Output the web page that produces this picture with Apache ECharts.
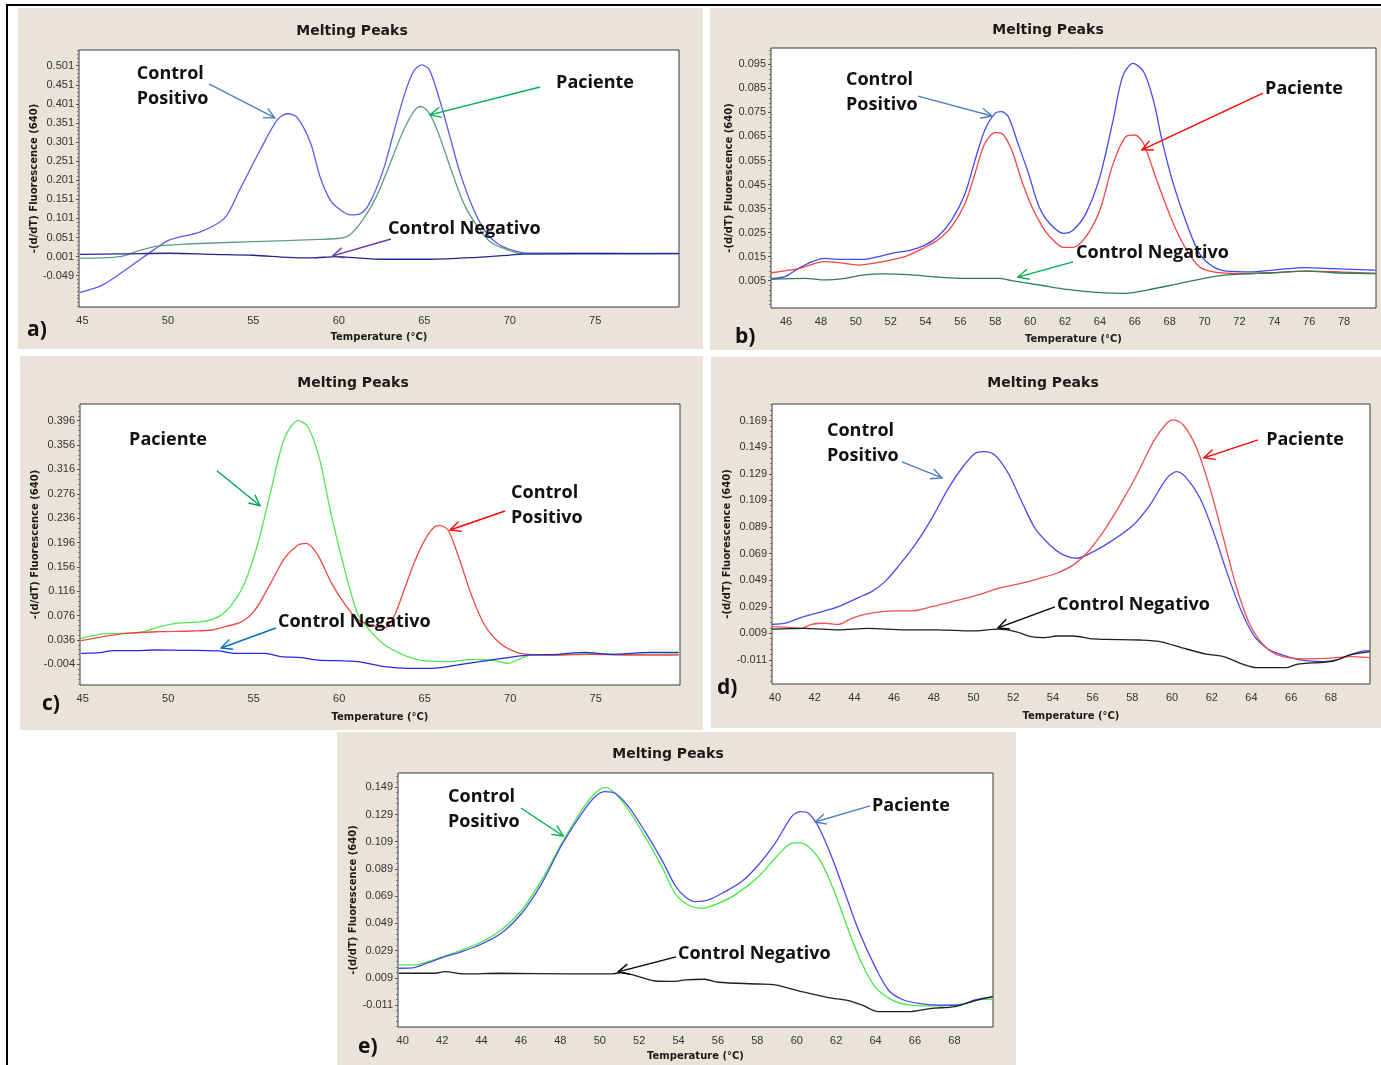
<!DOCTYPE html>
<html>
<head>
<meta charset="utf-8">
<script src="https://cdn.jsdelivr.net/npm/echarts@6/dist/echarts.min.js"></script>
<style>
  html, body { margin: 0; padding: 0; background: #ffffff; }
  #chart { width: 1381px; height: 1065px; }
</style>
</head>
<body>
<div id="chart"></div>
<script>
// ---- tick labels ----
const aXTicks = [45, 50, 55, 60, 65, 70, 75];
const aYTicks = [-0.049, 0.001, 0.051, 0.101, 0.151, 0.201, 0.251, 0.301, 0.351, 0.401, 0.451, 0.501];
const bXTicks = [46, 48, 50, 52, 54, 56, 58, 60, 62, 64, 66, 68, 70, 72, 74, 76, 78];
const bYTicks = [0.005, 0.015, 0.025, 0.035, 0.045, 0.055, 0.065, 0.075, 0.085, 0.095];
const cXTicks = [45, 50, 55, 60, 65, 70, 75];
const cYTicks = [-0.004, 0.036, 0.076, 0.116, 0.156, 0.196, 0.236, 0.276, 0.316, 0.356, 0.396];
const dXTicks = [40, 42, 44, 46, 48, 50, 52, 54, 56, 58, 60, 62, 64, 66, 68];
const dYTicks = [-0.011, 0.009, 0.029, 0.049, 0.069, 0.089, 0.109, 0.129, 0.149, 0.169];
const eXTicks = [40, 42, 44, 46, 48, 50, 52, 54, 56, 58, 60, 62, 64, 66, 68];
const eYTicks = [-0.011, 0.009, 0.029, 0.049, 0.069, 0.089, 0.109, 0.129, 0.149];

// ---- melting curves: [temperature, -(d/dT) fluorescence] ----
// a)
const aPositivo = [[44.85,-0.093],[46.2,-0.073],[47.8,-0.025],[49.15,0.018],[50.1,0.045],[51.9,0.066],[53.3,0.101],[54.2,0.176],[55.4,0.28],[56.4,0.359],[57.0,0.375],[57.55,0.366],[58.35,0.298],[58.9,0.21],[59.5,0.149],[60.1,0.123],[60.7,0.11],[61.2,0.112],[61.8,0.141],[62.6,0.228],[63.2,0.324],[63.8,0.42],[64.36,0.485],[64.85,0.503],[65.3,0.49],[65.9,0.411],[66.5,0.315],[67.1,0.219],[67.9,0.123],[68.65,0.062],[69.4,0.032],[70.2,0.017],[71.0,0.010],[74.0,0.010],[77.0,0.0095],[79.9,0.0095]];
const aPaciente = [[44.85,-0.003],[47.2,0.001],[48.4,0.018],[49.5,0.029],[51.1,0.034],[55.0,0.040],[58.9,0.046],[60.1,0.049],[60.65,0.058],[61.4,0.097],[62.2,0.158],[63.0,0.245],[63.8,0.333],[64.45,0.385],[64.8,0.394],[65.3,0.376],[65.9,0.315],[66.5,0.237],[67.3,0.141],[68.1,0.08],[68.85,0.04],[69.8,0.02],[70.8,0.008],[74.0,0.008],[79.9,0.009]];
const aNegativo = [[44.85,0.007],[47.2,0.008],[50.1,0.0097],[52.6,0.007],[55.0,0.0045],[57.0,-0.001],[58.35,-0.0025],[59.9,0.001],[60.65,-0.001],[62.6,-0.006],[65.3,-0.006],[68.1,-0.001],[70.0,0.005],[71.0,0.008],[74.0,0.009],[79.9,0.009]];
// b)
const bPositivo = [[45.15,0.006],[45.94,0.0067],[46.7,0.010],[47.5,0.0129],[48.2,0.0143],[49.0,0.0139],[50.5,0.0139],[51.3,0.015],[52.06,0.0164],[53.2,0.0178],[53.97,0.0198],[54.7,0.0233],[55.5,0.0302],[56.27,0.0413],[56.84,0.0552],[57.4,0.0677],[57.99,0.0746],[58.37,0.0753],[58.75,0.0732],[59.3,0.0621],[59.9,0.0497],[60.5,0.036],[61.1,0.029],[61.9,0.0247],[62.47,0.0261],[63.2,0.033],[64.0,0.0483],[64.76,0.0719],[65.3,0.0899],[65.9,0.0954],[66.5,0.092],[67.06,0.0802],[67.6,0.0621],[68.2,0.0455],[68.97,0.0289],[69.7,0.0164],[70.5,0.0108],[71.26,0.009],[72.8,0.0087],[74.3,0.0097],[75.85,0.0104],[77.4,0.010],[79.8,0.0094]];
const bPaciente = [[45.15,0.0083],[46.7,0.010],[48.2,0.0129],[49.0,0.0125],[50.15,0.0115],[51.3,0.0126],[52.8,0.015],[53.97,0.0189],[54.7,0.0219],[55.5,0.0275],[56.27,0.0372],[56.84,0.0497],[57.4,0.0621],[57.99,0.0666],[58.37,0.0663],[58.94,0.0594],[59.5,0.0469],[60.1,0.0358],[60.7,0.0275],[61.13,0.0233],[61.9,0.0189],[62.47,0.0189],[63.2,0.0233],[64.0,0.0344],[64.76,0.0538],[65.5,0.065],[66.0,0.0656],[66.5,0.0621],[67.25,0.0469],[68.2,0.0289],[68.97,0.0178],[69.7,0.0108],[70.5,0.0087],[72.0,0.008],[73.9,0.0083],[75.85,0.009],[79.8,0.008]];
const bNegativo = [[45.15,0.0056],[47.1,0.006],[48.2,0.0053],[49.4,0.006],[50.5,0.0074],[51.5,0.0078],[53.2,0.0074],[54.35,0.0067],[55.9,0.006],[58.2,0.006],[58.94,0.005],[60.7,0.003],[62.1,0.0014],[64.0,0.0],[65.3,-0.0003],[66.7,0.0011],[68.6,0.0039],[70.5,0.0067],[71.3,0.0074],[73.9,0.0083],[75.85,0.009],[77.4,0.0083],[79.8,0.008]];
// c)
const cPaciente = [[44.9,0.0387],[46.2,0.046],[48.3,0.048],[49.5,0.0578],[50.44,0.0633],[52.0,0.066],[52.95,0.0742],[53.7,0.0934],[54.5,0.1317],[55.27,0.197],[56.04,0.285],[56.8,0.367],[57.6,0.396],[58.17,0.386],[58.84,0.334],[59.5,0.246],[60.3,0.1535],[61.06,0.08],[61.68,0.055],[62.66,0.0277],[64.0,0.0086],[65.0,0.0015],[66.56,0.0004],[67.7,0.0042],[68.9,0.0031],[69.87,-0.0024],[70.65,0.0058],[71.2,0.0113],[72.8,0.0113],[74.75,0.014],[76.7,0.0124],[79.85,0.013]];
const cPositivo = [[44.9,0.0348],[46.2,0.0414],[47.55,0.0469],[49.5,0.0496],[51.4,0.0507],[52.57,0.0523],[53.34,0.0578],[54.3,0.066],[55.08,0.0852],[56.04,0.1317],[56.8,0.170],[57.6,0.1918],[58.07,0.1946],[58.75,0.1754],[59.5,0.1317],[60.3,0.096],[61.08,0.07],[61.88,0.0605],[62.66,0.056],[63.24,0.077],[63.83,0.121],[64.4,0.164],[65.0,0.200],[65.58,0.222],[65.88,0.2236],[66.36,0.2165],[66.95,0.175],[67.73,0.1098],[68.5,0.0605],[69.3,0.0332],[70.26,0.0168],[71.04,0.0124],[72.8,0.0113],[74.75,0.0124],[76.7,0.0113],[79.85,0.0113]];
const cNegativo = [[44.9,0.014],[46.0,0.0151],[46.8,0.0184],[48.1,0.0184],[49.1,0.0195],[51.0,0.019],[52.95,0.0179],[53.9,0.014],[55.66,0.014],[56.6,0.0086],[57.8,0.007],[58.75,0.003],[61.08,0.0004],[62.66,-0.0078],[64.0,-0.0106],[65.4,-0.0106],[66.95,-0.005],[68.5,0.0015],[69.87,0.007],[71.2,0.0113],[72.8,0.0124],[74.35,0.0157],[75.9,0.0124],[78.25,0.0157],[79.85,0.0157]];
// d)
const dPositivo = [[39.85,0.0158],[40.5,0.0166],[41.34,0.0211],[42.18,0.0246],[43.2,0.0291],[44.2,0.0359],[44.87,0.0404],[45.54,0.0479],[46.2,0.0592],[47.05,0.0755],[47.9,0.0955],[48.73,0.118],[49.4,0.133],[50.08,0.1444],[50.5,0.1457],[51.08,0.143],[51.75,0.1294],[52.43,0.108],[53.1,0.088],[53.85,0.0755],[54.53,0.068],[55.2,0.0655],[56.04,0.0705],[57.04,0.0793],[58.05,0.0905],[58.89,0.1056],[59.73,0.1256],[60.24,0.1306],[60.74,0.1256],[61.41,0.1106],[62.08,0.0855],[62.75,0.0554],[63.43,0.0279],[64.1,0.0078],[64.77,-0.0022],[65.44,-0.0067],[66.45,-0.011],[67.62,-0.0123],[68.3,-0.011],[68.97,-0.0072],[69.64,-0.0042],[69.95,-0.004]];
const dPaciente = [[39.85,0.0141],[40.84,0.0133],[41.34,0.0128],[41.85,0.0158],[42.5,0.0166],[43.2,0.0158],[43.86,0.0203],[44.53,0.0233],[45.37,0.0254],[46.05,0.0259],[46.88,0.0259],[47.9,0.0291],[49.07,0.0334],[50.24,0.0379],[51.25,0.0429],[52.43,0.0467],[53.35,0.0504],[54.19,0.0542],[55.03,0.0605],[55.7,0.0692],[56.54,0.0855],[57.38,0.1056],[58.22,0.1281],[59.06,0.1532],[59.73,0.167],[60.07,0.1695],[60.57,0.1657],[61.24,0.1482],[61.91,0.1181],[62.59,0.0805],[63.26,0.0429],[63.93,0.0153],[64.77,-0.0022],[65.6,-0.0085],[66.78,-0.0102],[67.96,-0.0097],[68.97,-0.0085],[69.95,-0.0092]];
const dNegativo = [[39.85,0.0121],[41.5,0.0128],[43.2,0.0116],[44.7,0.0128],[46.55,0.0116],[48.2,0.0116],[49.9,0.0108],[51.25,0.0121],[52.1,0.0103],[52.93,0.0065],[53.6,0.0058],[54.19,0.007],[55.03,0.007],[56.04,0.0048],[58.39,0.004],[59.4,0.0028],[60.57,-0.0022],[61.75,-0.0067],[62.59,-0.0085],[63.59,-0.0143],[64.27,-0.0168],[65.78,-0.0168],[66.28,-0.0143],[68.13,-0.0118],[68.97,-0.0072],[69.95,-0.0047]];
// e)
const ePositivo = [[39.8,0.0184],[40.63,0.0184],[41.3,0.0209],[42.15,0.025],[43.0,0.0294],[44.0,0.0353],[45.0,0.0441],[46.04,0.0588],[47.06,0.0809],[48.07,0.1078],[49.09,0.1323],[49.76,0.1446],[50.27,0.149],[50.78,0.1446],[51.46,0.1323],[52.3,0.1127],[53.15,0.0907],[53.82,0.0711],[54.5,0.0625],[55.17,0.06],[56.02,0.0637],[56.87,0.0699],[58.05,0.0833],[58.9,0.0968],[59.57,0.1066],[60.08,0.1083],[60.59,0.1054],[61.27,0.0931],[61.94,0.0711],[62.62,0.0441],[63.3,0.0196],[63.97,0.0025],[64.82,-0.0073],[65.66,-0.011],[66.68,-0.0117],[67.86,-0.0112],[68.71,-0.0093],[69.4,-0.0068],[69.95,-0.0068]];
const ePaciente = [[39.8,0.016],[40.63,0.0167],[41.3,0.0201],[42.15,0.0245],[43.0,0.0282],[44.0,0.0338],[45.0,0.0417],[46.04,0.0564],[47.06,0.0784],[48.07,0.1066],[49.09,0.1299],[49.76,0.1421],[50.27,0.1458],[50.78,0.1446],[51.46,0.1348],[52.3,0.1164],[53.15,0.0956],[53.82,0.077],[54.33,0.0686],[54.84,0.065],[55.51,0.0662],[56.36,0.0723],[57.2,0.0797],[58.05,0.0919],[58.9,0.1078],[59.74,0.1274],[60.17,0.1311],[60.59,0.1299],[61.1,0.12],[61.77,0.098],[62.45,0.0711],[63.13,0.0441],[63.97,0.0172],[64.65,0.0],[65.33,-0.0068],[66.17,-0.0098],[67.36,-0.0112],[68.2,-0.0112],[69.05,-0.0073],[69.95,-0.0049]];
const eNegativo = [[39.8,0.0123],[41.64,0.0123],[42.15,0.0135],[43.16,0.0118],[45.0,0.0123],[48.4,0.0118],[50.6,0.0118],[51.12,0.0128],[51.8,0.0106],[52.8,0.0066],[53.82,0.0063],[54.33,0.0074],[55.34,0.0079],[56.02,0.0057],[58.05,0.0044],[58.9,0.0037],[60.25,-0.0012],[61.6,-0.0056],[62.62,-0.0078],[63.3,-0.011],[64.14,-0.0159],[65.66,-0.0159],[66.85,-0.0135],[68.03,-0.0122],[69.05,-0.0078],[69.95,-0.0049]];

// ---- fonts & colours ----
const FONT_TICK = '"Liberation Sans Narrow", "Liberation Sans", Arial, sans-serif';
const FONT_AXIS = '"DejaVu Sans", sans-serif';
const FONT_NOTE = '"Open Sans", "Noto Sans", sans-serif';
const BEIGE = '#E9E3D9';

// ---- panel layout: plot boxes, axis extents, callouts (callouts in data coordinates) ----
const panels = [
  { letter: 'a)', letterPos: [27, 330], panelBox: [18, 8, 685, 341], titlePos: [352, 31],
    grid: { left: 79, top: 50, width: 600, height: 257 }, xRange: [44.8, 79.9], yRange: [-0.131, 0.542],
    xTicks: aXTicks, yTicks: aYTicks, yMinor: 0.01, yNameGap: 31, xNameGap: 25,
    lines: [
      { name: 'Control Positivo', data: aPositivo, color: '#5A5AF0' },
      { name: 'Paciente', data: aPaciente, color: '#5E9E80' },
      { name: 'Control Negativo', data: aNegativo, color: '#24248A' }
    ],
    notes: [
      { text: 'Control\nPositivo', at: [48.18, 0.448], tail: [52.4, 0.453], tip: [56.26, 0.364], color: '#4F81BD' },
      { text: 'Paciente', at: [72.71, 0.456], tail: [71.77, 0.445], tip: [65.33, 0.372], color: '#00B050' },
      { text: 'Control Negativo', at: [62.87, 0.0735], tail: [63.05, 0.047], tip: [59.65, 0.003], color: '#7030A0' }
    ] },
  { letter: 'b)', letterPos: [735, 337], panelBox: [710, 8, 671, 342], titlePos: [1048, 30],
    grid: { left: 771, top: 48, width: 605, height: 260 }, xRange: [45.14, 79.83], yRange: [-0.00636, 0.1018],
    xTicks: bXTicks, yTicks: bYTicks, yMinor: 0.002, yNameGap: 31, xNameGap: 26,
    lines: [
      { name: 'Control Positivo', data: bPositivo, color: '#4646F4' },
      { name: 'Paciente', data: bPaciente, color: '#F04646' },
      { name: 'Control Negativo', data: bNegativo, color: '#2E7D55' }
    ],
    notes: [
      { text: 'Control\nPositivo', at: [49.44, 0.0835], tail: [53.57, 0.0818], tip: [57.81, 0.0735], color: '#4F81BD' },
      { text: 'Paciente', at: [73.47, 0.0847], tail: [73.35, 0.083], tip: [66.41, 0.0594], color: '#FF0000' },
      { text: 'Control Negativo', at: [62.63, 0.0165], tail: [62.46, 0.0128], tip: [59.3, 0.0065], color: '#00B050' }
    ] },
  { letter: 'c)', letterPos: [42, 704], panelBox: [20, 356, 683, 374], titlePos: [353, 383],
    grid: { left: 80, top: 404, width: 600, height: 281 }, xRange: [44.84, 79.93], yRange: [-0.038, 0.4234],
    xTicks: cXTicks, yTicks: cYTicks, yMinor: 0.008, yNameGap: 35, xNameGap: 27,
    lines: [
      { name: 'Paciente', data: cPaciente, color: '#4EE84E' },
      { name: 'Control Positivo', data: cPositivo, color: '#F04848' },
      { name: 'Control Negativo', data: cNegativo, color: '#2828E0' }
    ],
    notes: [
      { text: 'Paciente', at: [47.71, 0.3653], tail: [52.85, 0.3138], tip: [55.37, 0.2563], color: '#00A651' },
      { text: 'Control\nPositivo', at: [70.05, 0.2576], tail: [69.7, 0.2477], tip: [66.48, 0.2165], color: '#FF0000' },
      { text: 'Control Negativo', at: [56.42, 0.0655], tail: [56.3, 0.0556], tip: [53.09, 0.0228], color: '#0070C0' }
    ] },
  { letter: 'd)', letterPos: [717, 688], panelBox: [711, 357, 670, 371], titlePos: [1043, 383],
    grid: { left: 772, top: 404, width: 598, height: 280 }, xRange: [39.85, 69.97], yRange: [-0.0291, 0.1815],
    xTicks: dXTicks, yTicks: dYTicks, yMinor: 0.004, yNameGap: 28, xNameGap: 27,
    lines: [
      { name: 'Control Positivo', data: dPositivo, color: '#4A4AF0' },
      { name: 'Paciente', data: dPaciente, color: '#F05050' },
      { name: 'Control Negativo', data: dNegativo, color: '#1E1E1E' }
    ],
    notes: [
      { text: 'Control\nPositivo', at: [42.62, 0.1522], tail: [46.4, 0.1379], tip: [48.41, 0.1259], color: '#4F81BD' },
      { text: 'Paciente', at: [64.74, 0.1545], tail: [64.33, 0.1545], tip: [61.61, 0.141], color: '#FF0000' },
      { text: 'Control Negativo', at: [54.21, 0.0304], tail: [54.1, 0.0289], tip: [51.23, 0.0131], color: '#000000' }
    ] },
  { letter: 'e)', letterPos: [358, 1047], panelBox: [337, 732, 679, 333], titlePos: [668, 754],
    grid: { left: 398, top: 773, width: 595, height: 254 }, xRange: [39.76, 69.96], yRange: [-0.0272, 0.1595],
    xTicks: eXTicks, yTicks: eYTicks, yMinor: 0.004, yNameGap: 38, xNameGap: 24,
    lines: [
      { name: 'Control Positivo', data: ePositivo, color: '#46EA46' },
      { name: 'Paciente', data: ePaciente, color: '#4A4AF0' },
      { name: 'Control Negativo', data: eNegativo, color: '#1E1E1E' }
    ],
    notes: [
      { text: 'Control\nPositivo', at: [42.3, 0.133], tail: [46.0, 0.1338], tip: [48.14, 0.1132], color: '#00B050' },
      { text: 'Paciente', at: [63.82, 0.1353], tail: [63.72, 0.1353], tip: [60.93, 0.1235], color: '#4F81BD' },
      { text: 'Control Negativo', at: [53.97, 0.0265], tail: [53.87, 0.0243], tip: [50.93, 0.0133], color: '#000000' }
    ] }
];

// minor tick positions between the labelled ticks
function minorTicks(major, step, lo, hi) {
  const out = [];
  const base = major[0];
  const start = Math.ceil((lo - base) / step - 1e-9);
  const end = Math.floor((hi - base) / step + 1e-9);
  for (let k = start; k <= end; k++) {
    const v = +(base + k * step).toFixed(6);
    if (!major.some(m => Math.abs(m - v) < step / 10)) out.push(v);
  }
  return out;
}

const option = {
  animation: false,
  backgroundColor: '#ffffff',
  grid: [], xAxis: [], yAxis: [], series: [],
  graphic: []
};

// figure frame (top and left rules)
option.graphic.push({ type: 'rect', id: 'frameTop', z: -2, shape: { x: 6, y: 4, width: 1375, height: 2 }, style: { fill: '#000' } });
option.graphic.push({ type: 'rect', id: 'frameLeft', z: -2, shape: { x: 6, y: 4, width: 2, height: 1061 }, style: { fill: '#000' } });

panels.forEach((p, i) => {
  const b = p.panelBox;
  option.graphic.push({ type: 'rect', id: 'bg' + i, z: -1, shape: { x: b[0], y: b[1], width: b[2], height: b[3] }, style: { fill: BEIGE } });
  option.graphic.push({ type: 'text', id: 'title' + i, z: 5, x: p.titlePos[0], y: p.titlePos[1],
    style: { text: 'Melting Peaks', font: 'bold 14px ' + FONT_AXIS, fill: '#1a1a1a', align: 'center', verticalAlign: 'middle' } });
  option.graphic.push({ type: 'text', id: 'letter' + i, z: 5, x: p.letterPos[0], y: p.letterPos[1],
    style: { text: p.letter, font: 'bold 21px ' + FONT_NOTE, fill: '#111', align: 'left', verticalAlign: 'middle' } });

  option.grid.push(Object.assign({ show: true, backgroundColor: '#ffffff', borderColor: '#3a3a3a', borderWidth: 1, containLabel: false }, p.grid));

  option.xAxis.push({
    type: 'value', gridIndex: i, min: p.xRange[0], max: p.xRange[1],
    axisLine: { show: false }, axisTick: { show: false }, splitLine: { show: false },
    axisLabel: { customValues: p.xTicks, margin: 8, fontFamily: FONT_TICK, fontSize: 11, color: '#333', hideOverlap: false },
    name: 'Temperature (°C)', nameLocation: 'middle', nameGap: p.xNameGap,
    nameTextStyle: { fontFamily: FONT_AXIS, fontWeight: 'bold', fontSize: 10, color: '#1a1a1a' }
  });

  option.yAxis.push({
    type: 'value', gridIndex: i, position: 'left', min: p.yRange[0], max: p.yRange[1],
    axisLine: { show: false }, splitLine: { show: false },
    axisTick: { show: true, customValues: p.yTicks, length: 3, lineStyle: { color: '#555' } },
    axisLabel: { customValues: p.yTicks, formatter: v => v.toFixed(3), margin: 5, fontFamily: FONT_TICK, fontSize: 11, color: '#333', hideOverlap: false },
    name: '-(d/dT) Fluorescence (640)', nameLocation: 'middle', nameRotate: 90, nameGap: p.yNameGap,
    nameTextStyle: { fontFamily: FONT_AXIS, fontWeight: 'bold', fontSize: 10, color: '#1a1a1a' }
  });
  option.yAxis.push({
    type: 'value', gridIndex: i, position: 'left', offset: 0, min: p.yRange[0], max: p.yRange[1],
    axisLine: { show: false }, splitLine: { show: false }, axisLabel: { show: false },
    axisTick: { show: true, customValues: minorTicks(p.yTicks, p.yMinor, p.yRange[0], p.yRange[1]), length: 2, lineStyle: { color: '#777' } }
  });

  p.lines.forEach(l => {
    option.series.push({
      type: 'line', name: l.name, xAxisIndex: i, yAxisIndex: 2 * i,
      data: l.data, showSymbol: false, smooth: 0.3, silent: true,
      lineStyle: { color: l.color, width: 1.3 }, itemStyle: { color: l.color }
    });
  });
});

const chart = echarts.init(document.getElementById('chart'), null, { renderer: 'canvas' });
chart.setOption(option);

// callout texts and open-headed arrows, placed through each panel's axes
const callouts = [];
panels.forEach((p, i) => {
  const toPx = c => chart.convertToPixel({ xAxisIndex: i, yAxisIndex: 2 * i }, c);
  p.notes.forEach((n, k) => {
    const at = toPx(n.at), tail = toPx(n.tail), tip = toPx(n.tip);
    callouts.push({ type: 'text', id: 'note' + i + '_' + k, z: 20, x: at[0], y: at[1],
      style: { text: n.text, font: 'bold 18px ' + FONT_NOTE, fill: '#111', align: 'left', verticalAlign: 'middle', lineHeight: 25 } });
    const dx = tail[0] - tip[0], dy = tail[1] - tip[1];
    const len = Math.hypot(dx, dy) || 1;
    const ux = dx / len, uy = dy / len;
    const head = 12, ang = 0.45;
    const h1 = [tip[0] + head * (ux * Math.cos(ang) - uy * Math.sin(ang)), tip[1] + head * (ux * Math.sin(ang) + uy * Math.cos(ang))];
    const h2 = [tip[0] + head * (ux * Math.cos(-ang) - uy * Math.sin(-ang)), tip[1] + head * (ux * Math.sin(-ang) + uy * Math.cos(-ang))];
    callouts.push({ type: 'polyline', id: 'shaft' + i + '_' + k, z: 20, shape: { points: [tail, tip] }, style: { stroke: n.color, lineWidth: 1.4, fill: null } });
    callouts.push({ type: 'polyline', id: 'head' + i + '_' + k, z: 20, shape: { points: [h1, tip, h2] }, style: { stroke: n.color, lineWidth: 1.4, fill: null } });
  });
});
chart.setOption({ graphic: option.graphic.concat(callouts) });
</script>
</body>
</html>
